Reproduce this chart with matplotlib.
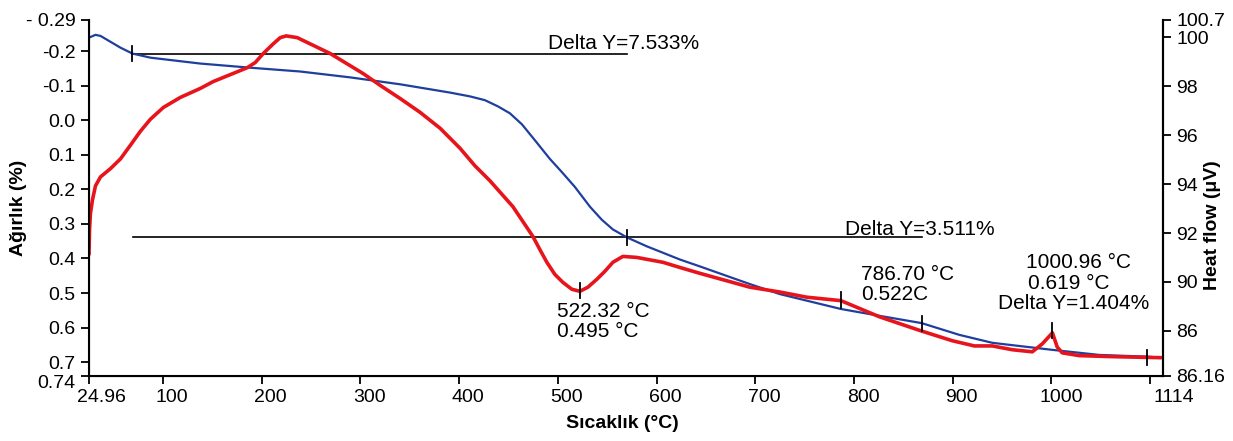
import matplotlib
matplotlib.use("Agg")
import matplotlib.pyplot as plt
from matplotlib.transforms import ScaledTranslation

plt.rcParams['font.family'] = ['Liberation Sans', 'DejaVu Sans']

# ---- data (weight axis units, temperature in °C) ----
blue_T = [24.96, 31.5, 36.6, 46.7, 56.8, 68.9, 87.2, 137.7, 188.3, 238.9, 289.5, 319.9,
          340.1, 390.7, 410.9, 426.1, 439.3, 451.4, 463.6, 476.7, 491.9, 504.0, 517.2,
          532.4, 544.5, 555.7, 569.9, 590.2, 623.6, 643.9, 694.4, 724.8, 786.5, 826.0,
          868.5, 906.7, 940.1, 999.8, 1048.3, 1096.9, 1111.0]
blue_W = [-0.239, -0.247, -0.244, -0.227, -0.210, -0.193, -0.181, -0.164, -0.152, -0.141,
          -0.124, -0.112, -0.104, -0.080, -0.069, -0.058, -0.040, -0.020, 0.012, 0.058,
          0.112, 0.150, 0.193, 0.250, 0.288, 0.316, 0.339, 0.365, 0.403, 0.423, 0.474,
          0.503, 0.546, 0.566, 0.587, 0.621, 0.644, 0.664, 0.679, 0.684, 0.687]

red_T = [24.96, 25.5, 26.4, 28.5, 31.5, 36.6, 46.7, 56.8, 67.0, 77.0, 87.2, 100.3, 117.5,
         137.7, 150.9, 168.1, 185.3, 193.4, 201.5, 211.6, 218.7, 224.8, 235.9, 269.3,
         302.7, 319.9, 340.1, 360.3, 380.6, 400.8, 416.0, 431.1, 454.4, 464.5, 474.6,
         481.7, 488.8, 496.9, 505.0, 514.1, 522.3, 530.4, 539.5, 547.6, 555.7, 565.8,
         580.0, 606.4, 623.6, 643.9, 694.4, 724.8, 752.1, 786.7, 826.0, 868.5, 899.6,
         921.9, 940.1, 960.3, 980.6, 990.7, 1001.0, 1005.8, 1010.9, 1028.1, 1061.5, 1111.0]
red_W = [0.388, 0.316, 0.270, 0.230, 0.190, 0.164, 0.140, 0.112, 0.072, 0.032, -0.003,
         -0.037, -0.066, -0.092, -0.112, -0.132, -0.152, -0.167, -0.193, -0.221, -0.239,
         -0.244, -0.239, -0.193, -0.135, -0.101, -0.063, -0.023, 0.023, 0.081, 0.132,
         0.175, 0.250, 0.293, 0.336, 0.374, 0.411, 0.446, 0.469, 0.489, 0.495, 0.483,
         0.460, 0.437, 0.411, 0.394, 0.397, 0.411, 0.426, 0.443, 0.483, 0.497, 0.512,
         0.522, 0.569, 0.610, 0.638, 0.653, 0.653, 0.664, 0.670, 0.647, 0.615, 0.656,
         0.673, 0.681, 0.684, 0.687]

# marker ticks on curves (x, y)
mark_T = [68.9, 569.9, 522.3, 786.7, 868.5, 1001.0, 1096.9]
mark_W = [-0.193, 0.339, 0.492, 0.520, 0.587, 0.609, 0.686]

# delta-Y lines
dline1 = ([68.9, 569.9], [-0.193, -0.193])
dline2 = ([69.9, 868.5], [0.339, 0.339])

x_ticks = [24.96, 100, 200, 300, 400, 500, 600, 700, 800, 900, 1000, 1100]
x_labels = ['24.96', '100', '200', '300', '400', '500', '600', '700', '800', '900',
            '1000', '1114']
yl_ticks = [-0.29, -0.2, -0.1, 0.0, 0.1, 0.2, 0.3, 0.4, 0.5, 0.6, 0.7, 0.74]
yl_labels = ['- 0.29', '-0.2', '-0.1', '0.0', '0.1', '0.2', '0.3', '0.4', '0.5', '0.6',
             '0.7', '0.74']
yr_ticks = [100.7, 100, 98, 96, 94, 92, 90, 88, 86.16]
yr_labels = ['100.7', '100', '98', '96', '94', '92', '90', '86', '86.16']

annotations = [
    (489.8, -0.205, 'Delta Y=7.533%', 'baseline'),
    (791.2, 0.333, 'Delta Y=3.511%', 'baseline'),
    (499.0, 0.552, '522.32 °C', 'center'),
    (499.0, 0.612, '0.495 °C', 'center'),
    (807.5, 0.446, '786.70 °C', 'center'),
    (807.5, 0.503, '0.522C', 'center'),
    (974.6, 0.411, '1000.96 °C', 'center'),
    (976.5, 0.472, '0.619 °C', 'center'),
    (946.1, 0.529, 'Delta Y=1.404%', 'center'),
]

fig = plt.figure(figsize=(12.33, 4.41), dpi=100)
ax = fig.add_axes([89/1233, 1-376/441, (1163-89)/1233, (376-20)/441])

ax.plot(dline1[0], dline1[1], color='black', lw=1.2)
ax.plot(dline2[0], dline2[1], color='black', lw=1.2)
ax.plot(blue_T, blue_W, color='#1f3f9e', lw=1.6, solid_joinstyle='round')
ax.plot(red_T, red_W, color='#e8141c', lw=2.6, solid_joinstyle='round',
        solid_capstyle='round')
for t, w in zip(mark_T, mark_W):
    ax.plot([t, t], [w - 0.022, w + 0.022], color='black', lw=1.3)

ax.set_xlim(24.96, 1113)
ax.set_ylim(0.74, -0.29)
ax.set_xticks(x_ticks)
ax.set_xticklabels(x_labels, fontsize=14)
ax.set_yticks(yl_ticks)
ax.set_yticklabels(yl_labels, fontsize=14)
ax.tick_params(axis='both', direction='out', length=6, width=1.3, colors='black')
ax.spines['top'].set_visible(False)
for s in ['left', 'bottom', 'right']:
    ax.spines[s].set_linewidth(1.5)

# shift x tick labels slightly right as in the reference
x_shift_px = [12, 9, 9, 9, 9, 9, 9, 9, 9, 9, 10, 24]
for lab, dx in zip(ax.get_xticklabels(), x_shift_px):
    lab.set_transform(lab.get_transform() + ScaledTranslation(dx / 100, 0, fig.dpi_scale_trans))
for lab in ax.get_yticklabels():
    if lab.get_text() == '0.74':
        lab.set_transform(lab.get_transform() + ScaledTranslation(0, -5 / 100, fig.dpi_scale_trans))

ax.set_xlabel('Sıcaklık (°C)', fontsize=14, fontweight='bold')
ax.xaxis.set_label_coords((622 - 89) / 1074, -(415 - 376) / 356)
ax.set_ylabel('Ağırlık (%)', fontsize=14, fontweight='bold')
ax.yaxis.set_label_coords((27 - 89) / 1074, (376 - 208) / 356)

ax2 = ax.twinx()
ax2.set_ylim(86.16, 100.7)
ax2.set_yticks(yr_ticks)
ax2.set_yticklabels(yr_labels, fontsize=14)
ax2.tick_params(axis='y', direction='out', length=6, width=1.3)
ax2.spines['top'].set_visible(False)
ax2.spines['right'].set_linewidth(1.5)
ax2.set_ylabel('Heat flow (μV)', fontsize=14, fontweight='bold')
ax2.yaxis.set_label_coords((1204 - 89) / 1074, (376 - 225) / 356)

for t, w, s, va in annotations:
    ax.text(t, w, s, fontsize=15, ha='left', va=va)

fig.savefig('out.png', dpi=100)
